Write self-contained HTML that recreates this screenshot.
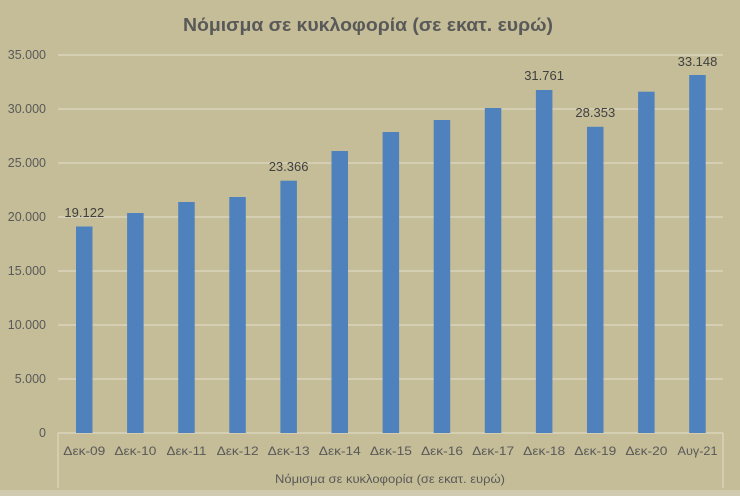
<!DOCTYPE html>
<html><head><meta charset="utf-8"><style>
html,body{margin:0;padding:0;background:#c4bd97;}
svg{display:block;}
text{font-family:"Liberation Sans","DejaVu Sans",sans-serif;}
</style></head><body>
<svg width="740" height="496" viewBox="0 0 740 496" xmlns="http://www.w3.org/2000/svg">
<rect x="0" y="0" width="740" height="496" fill="#c4bd97"/>
<rect x="0" y="490" width="740" height="6" fill="#d0cab0"/>
<text x="368" y="31" text-anchor="middle" font-size="18" font-weight="bold" fill="#595959" textLength="370" lengthAdjust="spacingAndGlyphs">Νόμισμα σε κυκλοφορία (σε εκατ. ευρώ)</text>
<g stroke="#ddd8c2" stroke-width="1.2">
<line x1="58" y1="55" x2="723" y2="55"/>
<line x1="58" y1="109" x2="723" y2="109"/>
<line x1="58" y1="163" x2="723" y2="163"/>
<line x1="58" y1="217" x2="723" y2="217"/>
<line x1="58" y1="271" x2="723" y2="271"/>
<line x1="58" y1="325" x2="723" y2="325"/>
<line x1="58" y1="379" x2="723" y2="379"/>
</g>
<g stroke="#ddd8c2" stroke-width="1.2" fill="none">
<line x1="58" y1="433" x2="723" y2="433"/>
<line x1="58" y1="433" x2="58" y2="488"/>
<line x1="723" y1="433" x2="723" y2="488"/>
</g>
<g font-size="12.5" fill="#595959" text-anchor="end">
<text x="46" y="59">35.000</text>
<text x="46" y="113">30.000</text>
<text x="46" y="167">25.000</text>
<text x="46" y="221">20.000</text>
<text x="46" y="275">15.000</text>
<text x="46" y="329">10.000</text>
<text x="46" y="383">5.000</text>
<text x="46" y="437">0</text>
</g>
<g fill="#4f81bd">
<rect x="76" y="226.5" width="16.5" height="206.5"/>
<rect x="127.1" y="213" width="16.5" height="220"/>
<rect x="178.2" y="202" width="16.5" height="231"/>
<rect x="229.3" y="197" width="16.5" height="236"/>
<rect x="280.4" y="180.7" width="16.5" height="252.3"/>
<rect x="331.5" y="151" width="16.5" height="282"/>
<rect x="382.6" y="132" width="16.5" height="301"/>
<rect x="433.7" y="120" width="16.5" height="313"/>
<rect x="484.8" y="108" width="16.5" height="325"/>
<rect x="535.9" y="90" width="16.5" height="343"/>
<rect x="587" y="126.8" width="16.5" height="306.2"/>
<rect x="638.1" y="91.7" width="16.5" height="341.3"/>
<rect x="689.2" y="75" width="16.5" height="358"/>
</g>
<g font-size="13" fill="#404040" text-anchor="middle">
<text x="84.3" y="217">19.122</text>
<text x="288.6" y="171">23.366</text>
<text x="544.1" y="80">31.761</text>
<text x="595.3" y="117">28.353</text>
<text x="697.5" y="66">33.148</text>
</g>
<g font-size="12" fill="#595959" text-anchor="middle">
<text x="84.3" y="455" textLength="42" lengthAdjust="spacingAndGlyphs">Δεκ-09</text>
<text x="135.4" y="455" textLength="42" lengthAdjust="spacingAndGlyphs">Δεκ-10</text>
<text x="186.5" y="455" textLength="40" lengthAdjust="spacingAndGlyphs">Δεκ-11</text>
<text x="237.6" y="455" textLength="42" lengthAdjust="spacingAndGlyphs">Δεκ-12</text>
<text x="288.7" y="455" textLength="42" lengthAdjust="spacingAndGlyphs">Δεκ-13</text>
<text x="339.8" y="455" textLength="42" lengthAdjust="spacingAndGlyphs">Δεκ-14</text>
<text x="390.9" y="455" textLength="42" lengthAdjust="spacingAndGlyphs">Δεκ-15</text>
<text x="442" y="455" textLength="42" lengthAdjust="spacingAndGlyphs">Δεκ-16</text>
<text x="493.1" y="455" textLength="42" lengthAdjust="spacingAndGlyphs">Δεκ-17</text>
<text x="544.2" y="455" textLength="42" lengthAdjust="spacingAndGlyphs">Δεκ-18</text>
<text x="595.3" y="455" textLength="42" lengthAdjust="spacingAndGlyphs">Δεκ-19</text>
<text x="646.4" y="455" textLength="42" lengthAdjust="spacingAndGlyphs">Δεκ-20</text>
<text x="697.5" y="455" textLength="40" lengthAdjust="spacingAndGlyphs">Αυγ-21</text>
</g>
<text x="390" y="483" text-anchor="middle" font-size="12" fill="#595959" textLength="230" lengthAdjust="spacingAndGlyphs">Νόμισμα σε κυκλοφορία (σε εκατ. ευρώ)</text>
</svg>
</body></html>
